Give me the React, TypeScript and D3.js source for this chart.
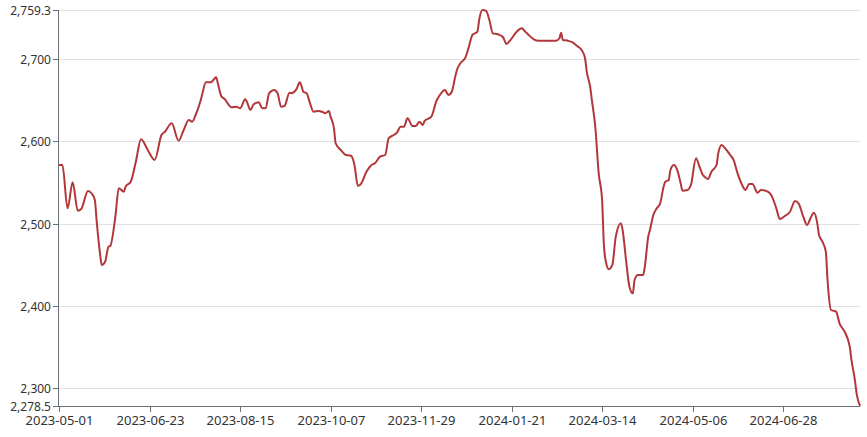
import { useMemo } from "react";
import * as d3 from "d3";

const WIDTH = 867;
const HEIGHT = 437;
const MARGIN = { top: 10, right: 7, bottom: 31, left: 59 };

const START = "2023-05-01";
const Y_MIN = 2278.5;
const Y_MAX = 2759.3;
const Y_TICKS = [2300, 2400, 2500, 2600, 2700];
const X_TICK_STEP = 53;

// days after START
const DAYS = [
  0, 2, 5, 8, 11, 13, 17, 19, 21, 22, 24, 25, 27, 29, 30, 33, 35, 38, 39, 42,
  45, 48, 51, 53, 56, 60, 62, 66, 70, 73, 76, 78, 80, 83, 84, 86, 89, 90, 92, 93,
  95, 97, 101, 104, 106, 109, 110, 112, 114, 117, 119, 121, 123, 126, 128, 130,
  132, 135, 136, 139, 141, 142, 143, 145, 147, 149, 152, 154, 156, 158, 159, 161,
  162, 165, 168, 171, 173, 175, 177, 180, 183, 185, 188, 191, 193, 196, 198, 200,
  202, 204, 207, 209, 211, 213, 214, 218, 221, 223, 226, 228, 230, 232, 233, 235,
  238, 240, 242, 245, 246, 248, 250, 252, 254, 257, 260, 262, 264, 268, 271, 273,
  275, 278, 281, 291, 293, 294, 295, 298, 301, 302, 304, 306, 308, 309, 311, 312,
  314, 316, 318, 319, 320, 322, 324, 326, 329, 330, 332, 334, 336, 337, 339, 342,
  343, 345, 346, 348, 350, 352, 354, 355, 357, 358, 360, 362, 364, 365, 368, 370,
  373, 375, 377, 378, 380, 382, 385, 386, 388, 390, 393, 395, 397, 400, 402, 404,
  406, 409, 411, 415, 417, 420, 422, 425, 428, 431, 433, 436, 438, 440, 442, 444,
  445, 447, 449, 450, 452, 455, 457, 460, 463, 464, 466, 467, 469,
];

const VALUES = [
  2571.1, 2571, 2518.5, 2550.1, 2515.6, 2517.7, 2539.5, 2536.8, 2528.6, 2504.3,
  2463.9, 2449.7, 2453.7, 2471.9, 2472.8, 2508.3, 2542.8, 2538.7, 2544.8, 2550.8,
  2575.1, 2602.3, 2593.3, 2585.3, 2577.2, 2607.5, 2611.5, 2621.7, 2600.6, 2613.6,
  2625.7, 2623.7, 2631.8, 2650, 2658.2, 2671.5, 2671.5, 2673.5, 2677.6, 2670.3,
  2654.9, 2651.2, 2641.2, 2641.9, 2640, 2650.9, 2648, 2637.9, 2644.8, 2647.2,
  2640, 2640, 2658.2, 2662.2, 2658.2, 2641.9, 2642.7, 2658.9, 2658.2, 2663,
  2671.5, 2667, 2660.1, 2658.2, 2646, 2635.8, 2636.7, 2635.8, 2633.9, 2636.7,
  2629.8, 2615.7, 2597.5, 2589.3, 2583.3, 2582.4, 2571.1, 2545.6, 2548.9, 2563,
  2571.1, 2573.2, 2581.2, 2583.3, 2603.5, 2607.5, 2610.8, 2617.6, 2617.6, 2627.8,
  2618.5, 2618.5, 2623.7, 2619.7, 2624.5, 2629.8, 2648.8, 2656.1, 2662.2, 2656.1,
  2660.1, 2678.3, 2686.5, 2694.6, 2701.9, 2714.7, 2728.9, 2733, 2747.2, 2759.3,
  2758.4, 2747.2, 2731, 2729.8, 2726.2, 2718, 2722, 2733, 2737.1, 2733,
  2728.9, 2723.7, 2722, 2722, 2725, 2731.7, 2722.9, 2722, 2719.6, 2718,
  2714.7, 2710.7, 2700.7, 2684.4, 2666.2, 2650, 2617.6, 2561, 2528.6, 2476,
  2455.8, 2444.5, 2449.7, 2484.1, 2500.3, 2492.2, 2455.8, 2423.4, 2415.3, 2431.5,
  2437.6, 2437.6, 2447.6, 2484.1, 2492.2, 2510.4, 2518.5, 2524.6, 2544.8, 2550.8,
  2552.9, 2565, 2571.1, 2565, 2548.9, 2539.9, 2540.8, 2546.8, 2579.3, 2569.1,
  2559, 2556.9, 2554.1, 2563, 2571.1, 2585.3, 2595.4, 2591.4, 2583.3, 2577.2,
  2563, 2546.8, 2540.8, 2548, 2548, 2537.5, 2540.8, 2538.7, 2534.7, 2518.5,
  2505.6, 2509.2, 2514.4, 2527.4, 2524.6, 2507.1, 2498.3, 2506.4, 2513.2, 2500.3,
  2486.1, 2478, 2465.9, 2431.5, 2395.1, 2393, 2378.9, 2368.7, 2350.5, 2334.4,
  2310.1, 2293.9, 2278.5,
];

const FONT = "'Noto Sans', 'DejaVu Sans', sans-serif";
const AXIS_COLOR = "#6e7079";
const GRID_COLOR = "#e0e0e0";
const LABEL_COLOR = "#333";
const LINE_COLOR = "#b3373a";

export default function App() {
  const boundsWidth = WIDTH - MARGIN.left - MARGIN.right;
  const boundsHeight = HEIGHT - MARGIN.top - MARGIN.bottom;

  const start = d3.utcParse("%Y-%m-%d")(START) as Date;
  const data = DAYS.map((d, i) => ({
    date: d3.utcDay.offset(start, d),
    value: VALUES[i],
  }));

  const xScale = useMemo(
    () =>
      d3
        .scaleUtc()
        .domain([start, data[data.length - 1].date])
        .range([0, boundsWidth]),
    [boundsWidth]
  );

  const yScale = useMemo(
    () => d3.scaleLinear().domain([Y_MIN, Y_MAX]).range([boundsHeight, 0]),
    [boundsHeight]
  );

  const xTicks = d3
    .range(0, DAYS[DAYS.length - 1] + 1, X_TICK_STEP)
    .map((d) => d3.utcDay.offset(start, d));
  const fmtDate = d3.utcFormat("%Y-%m-%d");

  const yTicks = [
    { v: Y_MIN, label: d3.format(",.1f")(Y_MIN) },
    ...Y_TICKS.map((v) => ({ v, label: d3.format(",")(v) })),
    { v: Y_MAX, label: d3.format(",.1f")(Y_MAX) },
  ];

  const linePath = d3
    .line<{ date: Date; value: number }>()
    .x((d) => xScale(d.date))
    .y((d) => yScale(d.value))
    .curve(d3.curveMonotoneX)(data);

  return (
    <svg
      width={WIDTH}
      height={HEIGHT}
      style={{ position: "absolute", left: 0, top: 0, background: "#fff" }}
    >
      <g transform={`translate(${MARGIN.left},${MARGIN.top})`}>
        {/* grid */}
        {yTicks
          .filter((t) => t.v !== Y_MIN)
          .map((t) => (
            <line
              key={"g" + t.v}
              x1={0}
              x2={boundsWidth}
              y1={Math.round(yScale(t.v)) + 0.5}
              y2={Math.round(yScale(t.v)) + 0.5}
              stroke={GRID_COLOR}
            />
          ))}

        {/* y axis */}
        <line x1={-0.5} x2={-0.5} y1={0} y2={boundsHeight} stroke={AXIS_COLOR} />
        {yTicks.map((t) => (
          <g key={"y" + t.v} transform={`translate(0,${Math.round(yScale(t.v)) + 0.5})`}>
            <line x1={-6} x2={0} stroke={AXIS_COLOR} />
            <text
              x={-8}
              dy="0.35em"
              textAnchor="end"
              fontFamily={FONT}
              fontSize={12}
              fill={LABEL_COLOR}
            >
              {t.label}
            </text>
          </g>
        ))}

        {/* x axis */}
        <line
          x1={0}
          x2={boundsWidth}
          y1={boundsHeight + 0.5}
          y2={boundsHeight + 0.5}
          stroke={AXIS_COLOR}
        />
        {xTicks.map((t) => (
          <g
            key={"x" + t.getTime()}
            transform={`translate(${Math.round(xScale(t)) + 0.5},${boundsHeight})`}
          >
            <line y1={0} y2={6} stroke={AXIS_COLOR} />
            <text
              y={19}
              textAnchor="middle"
              fontFamily={FONT}
              fontSize={13}
              fill={LABEL_COLOR}
            >
              {fmtDate(t)}
            </text>
          </g>
        ))}

        <path
          d={linePath ?? ""}
          fill="none"
          stroke={LINE_COLOR}
          strokeWidth={2}
          strokeLinejoin="round"
        />
      </g>
    </svg>
  );
}
